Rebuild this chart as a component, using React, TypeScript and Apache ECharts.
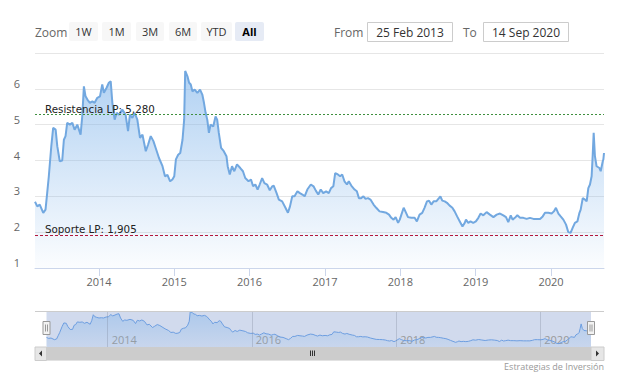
import React, { useEffect, useRef } from 'react';
import * as echarts from 'echarts';

const dates: string[] = [
  '2013-02-25','2013-03-08','2013-03-20','2013-04-06','2013-04-17','2013-04-25','2013-05-03','2013-05-15','2013-05-24','2013-06-05',
  '2013-06-13','2013-06-25','2013-07-07','2013-07-15','2013-07-23','2013-07-31','2013-08-13','2013-08-25','2013-09-05','2013-09-18',
  '2013-10-04','2013-10-12','2013-10-20','2013-10-28','2013-11-06','2013-11-18','2013-11-30','2013-12-11','2013-12-24','2014-01-06',
  '2014-01-17','2014-01-25','2014-02-07','2014-02-18','2014-02-27','2014-03-07','2014-03-18','2014-03-28','2014-04-08','2014-04-24',
  '2014-05-10','2014-05-22','2014-05-31','2014-06-12','2014-06-23','2014-07-06','2014-07-19','2014-07-31','2014-08-16','2014-08-27',
  '2014-09-09','2014-09-22','2014-10-03','2014-10-19','2014-11-05','2014-11-17','2014-11-29','2014-12-12','2014-12-23','2015-01-01',
  '2015-01-09','2015-01-20','2015-01-30','2015-02-10','2015-02-18','2015-02-23','2015-03-06','2015-03-14','2015-03-22','2015-03-30',
  '2015-04-10','2015-04-23','2015-05-06','2015-05-17','2015-05-25','2015-06-02','2015-06-10','2015-06-18','2015-06-26','2015-07-09',
  '2015-07-20','2015-07-28','2015-08-05','2015-08-16','2015-08-29','2015-09-11','2015-09-17','2015-09-27','2015-10-08','2015-10-19',
  '2015-11-01','2015-11-17','2015-11-30','2015-12-11','2015-12-27','2016-01-08','2016-01-18','2016-01-29','2016-02-09','2016-02-19',
  '2016-03-02','2016-03-13','2016-03-26','2016-04-08','2016-04-20','2016-04-27','2016-05-11','2016-05-22','2016-06-07','2016-06-23',
  '2016-07-05','2016-07-15','2016-07-26','2016-08-06','2016-08-20','2016-09-01','2016-09-13','2016-09-24','2016-10-07','2016-10-24',
  '2016-11-06','2016-11-17','2016-11-29','2016-12-11','2016-12-23','2017-01-06','2017-01-19','2017-01-30','2017-02-10','2017-02-19',
  '2017-03-04','2017-03-15','2017-03-25','2017-04-05','2017-04-17','2017-04-26','2017-05-08','2017-05-24','2017-06-04','2017-06-14',
  '2017-06-25','2017-07-06','2017-07-16','2017-07-28','2017-08-09','2017-08-24','2017-09-06','2017-09-22','2017-10-09','2017-10-25',
  '2017-11-07','2017-11-18','2017-11-29','2017-12-09','2017-12-21','2017-12-29','2018-01-06','2018-01-17','2018-01-27','2018-02-07',
  '2018-02-23','2018-03-11','2018-03-22','2018-04-04','2018-04-17','2018-04-28','2018-05-10','2018-05-20','2018-05-31','2018-06-11',
  '2018-06-24','2018-07-07','2018-07-14','2018-07-23','2018-08-04','2018-08-15','2018-08-28','2018-09-10','2018-09-21','2018-10-03',
  '2018-10-16','2018-10-29','2018-11-09','2018-11-15','2018-11-26','2018-12-07','2018-12-20','2019-01-02','2019-01-14','2019-01-25',
  '2019-02-07','2019-02-23','2019-03-11','2019-03-28','2019-04-13','2019-04-29','2019-05-15','2019-05-28','2019-06-08','2019-06-20',
  '2019-06-29','2019-07-10','2019-07-22','2019-08-04','2019-08-20','2019-09-05','2019-09-21','2019-10-08','2019-10-24','2019-11-09',
  '2019-11-22','2019-12-03','2019-12-19','2020-01-04','2020-01-15','2020-01-25','2020-02-06','2020-02-17','2020-03-01','2020-03-14',
  '2020-03-25','2020-04-05','2020-04-15','2020-04-26','2020-05-08','2020-05-18','2020-05-24','2020-06-03','2020-06-14','2020-06-22',
  '2020-06-30','2020-07-08','2020-07-16','2020-07-21','2020-07-26','2020-08-01','2020-08-09','2020-08-23','2020-08-29','2020-09-08',
  '2020-09-11','2020-09-14'
];

const values: number[] = [
  2.85,2.72,2.77,2.54,2.63,3.09,3.56,4.40,4.91,4.86,
  4.40,3.98,4.00,4.58,4.68,5.05,5.00,5.05,4.86,5.00,
  4.72,5.23,6.07,5.79,5.70,5.61,5.65,5.61,5.75,5.79,
  6.12,5.89,6.03,6.17,6.21,5.61,5.14,5.33,5.28,5.42,
  5.28,4.82,5.28,5.19,5.33,5.14,4.63,4.72,4.26,4.44,
  4.68,4.54,4.35,4.07,3.84,3.56,3.60,3.42,3.47,3.56,
  4.03,4.16,4.21,4.58,5.14,6.50,6.35,6.17,6.12,5.93,
  5.98,5.89,5.98,5.84,5.61,5.33,5.14,4.77,5.00,4.95,
  5.23,5.14,4.77,4.35,4.26,4.12,3.84,3.61,3.84,3.70,
  3.89,3.79,3.70,3.51,3.42,3.47,3.28,3.33,3.19,3.33,
  3.51,3.37,3.33,3.17,3.28,3.30,3.09,2.91,2.86,2.68,
  2.54,2.72,3.00,3.00,3.14,3.09,3.05,3.00,3.19,3.33,
  3.28,3.16,3.05,3.19,3.09,3.14,3.09,3.23,3.28,3.65,
  3.61,3.56,3.61,3.42,3.33,3.42,3.30,3.19,3.14,2.95,
  2.95,3.00,2.93,2.95,2.91,2.77,2.68,2.58,2.56,2.54,
  2.49,2.40,2.35,2.42,2.26,2.35,2.49,2.68,2.56,2.42,
  2.40,2.40,2.30,2.49,2.54,2.68,2.86,2.88,2.77,2.86,
  2.86,2.95,3.00,2.88,2.86,2.82,2.74,2.68,2.58,2.44,
  2.30,2.16,2.26,2.35,2.26,2.30,2.26,2.30,2.40,2.52,
  2.47,2.56,2.49,2.42,2.49,2.52,2.47,2.42,2.28,2.47,
  2.35,2.40,2.47,2.40,2.40,2.37,2.40,2.37,2.37,2.37,
  2.44,2.54,2.54,2.52,2.58,2.68,2.52,2.44,2.35,2.21,
  2.00,1.98,2.12,2.26,2.30,2.54,2.63,2.95,2.91,2.86,
  3.23,3.33,3.56,4.12,4.77,4.12,3.84,3.79,3.70,3.98,
  4.03,4.21
];

const resistance = 5.28;
const support = 1.905;
const resistanceLabel = 'Resistencia LP';
const supportLabel = 'Soporte LP';
const rangeButtons = ['1W', '1M', '3M', '6M', 'YTD', 'All'];
const selectedButton = 'All';
const fromText = '25 Feb 2013';
const toText = '14 Sep 2020';
const navGridDates = ['2014-01-01', '2016-01-01', '2018-01-01', '2020-01-01'];
const credits = 'Estrategias de Inversión';

const FONT = '"Open Sans", sans-serif';
const LABEL_FONT = '"DejaVu Sans", Verdana, sans-serif';

function fmt(v: number) {
  return v.toFixed(3).replace('.', ',');
}

export default function App() {
  const ref = useRef<HTMLDivElement>(null);

  useEffect(() => {
    if (!ref.current) return;
    const chart = echarts.init(ref.current, null, { renderer: 'svg' });
    const data = dates.map((d, i) => [d, values[i]]);

    const btnX = [69, 102, 136, 169, 201, 235];
    const btnW = [29, 29, 28, 28, 31, 29];
    const graphics: any[] = [
      { type: 'text', x: 35, y: 32, style: { text: 'Zoom', fill: '#666', font: '12px ' + FONT, align: 'left', verticalAlign: 'middle' } },
    ];
    rangeButtons.forEach((b, i) => {
      const sel = b === selectedButton;
      graphics.push({ type: 'rect', shape: { x: btnX[i], y: 22, width: btnW[i], height: 19, r: 2 }, style: { fill: sel ? '#e6ebf5' : '#f7f7f7' } });
      graphics.push({ type: 'text', x: btnX[i] + btnW[i] / 2, y: 31.5, style: { text: b, fill: sel ? '#000' : '#333', font: (sel ? 'bold ' : '') + '11px ' + FONT, align: 'center', verticalAlign: 'middle' } });
    });
    graphics.push(
      { type: 'text', x: 334, y: 32, style: { text: 'From', fill: '#666', font: '12px ' + FONT, align: 'left', verticalAlign: 'middle' } },
      { type: 'rect', shape: { x: 367.5, y: 22.5, width: 85, height: 19 }, style: { fill: '#fff', stroke: '#cccccc', lineWidth: 1 } },
      { type: 'text', x: 410, y: 32, style: { text: fromText, fill: '#333', font: '12px ' + FONT, align: 'center', verticalAlign: 'middle' } },
      { type: 'text', x: 463, y: 32, style: { text: 'To', fill: '#666', font: '12px ' + FONT, align: 'left', verticalAlign: 'middle' } },
      { type: 'rect', shape: { x: 483.5, y: 22.5, width: 85, height: 19 }, style: { fill: '#fff', stroke: '#cccccc', lineWidth: 1 } },
      { type: 'text', x: 526, y: 32, style: { text: toText, fill: '#333', font: '12px ' + FONT, align: 'center', verticalAlign: 'middle' } },
      // navigator outline
      { type: 'line', shape: { x1: 35, y1: 311.5, x2: 604, y2: 311.5 }, style: { stroke: '#cccccc', lineWidth: 1 }, z: 10 },
      // scrollbar
      { type: 'rect', shape: { x: 35, y: 347, width: 569, height: 13.5 }, style: { fill: '#f2f2f2' }, z: 10 },
      { type: 'rect', shape: { x: 46.5, y: 347, width: 544.5, height: 13.5 }, style: { fill: '#cccccc' }, z: 10 },
      { type: 'rect', shape: { x: 35, y: 347, width: 11.5, height: 13.5 }, style: { fill: '#e6e6e6', stroke: '#cccccc', lineWidth: 1 }, z: 10 },
      { type: 'rect', shape: { x: 591, y: 347, width: 13, height: 13.5 }, style: { fill: '#e6e6e6', stroke: '#cccccc', lineWidth: 1 }, z: 10 },
      { type: 'polygon', shape: { points: [[42, 350.5], [42, 356.5], [39, 353.5]] }, style: { fill: '#333' }, z: 11 },
      { type: 'polygon', shape: { points: [[596, 350.5], [596, 356.5], [599, 353.5]] }, style: { fill: '#333' }, z: 11 },
      { type: 'line', shape: { x1: 310.5, y1: 350.5, x2: 310.5, y2: 356 }, style: { stroke: '#333', lineWidth: 1 }, z: 11 },
      { type: 'line', shape: { x1: 312.5, y1: 350.5, x2: 312.5, y2: 356 }, style: { stroke: '#333', lineWidth: 1 }, z: 11 },
      { type: 'line', shape: { x1: 314.5, y1: 350.5, x2: 314.5, y2: 356 }, style: { stroke: '#333', lineWidth: 1 }, z: 11 },
    );
    [46.5, 591].forEach((cx) => {
      graphics.push(
        { type: 'rect', shape: { x: cx - 3.5, y: 321.5, width: 7, height: 13 }, style: { fill: '#f2f2f2', stroke: '#999999', lineWidth: 1 }, z: 12 },
        { type: 'line', shape: { x1: cx - 1, y1: 324.5, x2: cx - 1, y2: 331.5 }, style: { stroke: '#999999', lineWidth: 1 }, z: 13 },
        { type: 'line', shape: { x1: cx + 1, y1: 324.5, x2: cx + 1, y2: 331.5 }, style: { stroke: '#999999', lineWidth: 1 }, z: 13 },
      );
    });
    graphics.push({ type: 'text', x: 604, y: 366, style: { text: credits, fill: '#999', font: '9px ' + FONT, align: 'right', verticalAlign: 'middle' } });

    const areaGrad = new echarts.graphic.LinearGradient(0, 0, 0, 1, [
      { offset: 0, color: 'rgba(124,178,234,0.85)' },
      { offset: 1, color: 'rgba(124,178,234,0.04)' },
    ]);
    const navGrad = new echarts.graphic.LinearGradient(0, 0, 0, 1, [
      { offset: 0, color: 'rgba(124,178,234,0.6)' },
      { offset: 1, color: 'rgba(124,178,234,0.15)' },
    ]);

    const markLabel = (text: string) => ({
      show: true,
      formatter: text,
      position: 'insideStartTop',
      distance: [10, 1],
      color: '#222',
      fontSize: 10.3,
      fontFamily: LABEL_FONT,
    });

    chart.setOption({
      animation: false,
      textStyle: { fontFamily: FONT },
      grid: [
        { left: 35, right: 14, top: 53, height: 215, outerBoundsMode: 'none' },
        { left: 46.5, right: 27, top: 311, height: 36, show: true, backgroundColor: 'rgba(102,133,194,0.3)', borderWidth: 0, outerBoundsMode: 'none' },
      ],
      xAxis: [
        {
          type: 'time', gridIndex: 0, min: dates[0], max: dates[dates.length - 1], splitNumber: 8,
          axisLine: { show: true, lineStyle: { color: '#ccd6eb', width: 1 } },
          axisTick: { show: true, length: 8, lineStyle: { color: '#ccd6eb' } },
          axisLabel: { formatter: '{yyyy}', color: '#666', fontSize: 11, margin: 8, showMinLabel: false, showMaxLabel: false, fontFamily: FONT },
          splitLine: { show: false },
        },
        {
          type: 'time', gridIndex: 1, min: dates[0], max: dates[dates.length - 1], splitNumber: 8,
          axisLine: { show: false }, axisTick: { show: false }, splitLine: { show: false },
          axisLabel: {
            inside: true, margin: 2, color: '#999', fontSize: 11, fontFamily: FONT, align: 'left', padding: [0, 0, 0, 4],
            showMinLabel: false, showMaxLabel: false,
            formatter: (v: number) => { const y = new Date(v).getFullYear(); return y % 2 === 0 ? String(y) : ''; },
          },
        },
      ],
      yAxis: [
        {
          type: 'value', gridIndex: 0, min: 1, max: 7, interval: 1,
          axisLine: { show: false }, axisTick: { show: false },
          axisLabel: { color: '#666', fontSize: 11, margin: 15, verticalAlign: 'bottom', showMaxLabel: false, fontFamily: FONT },
          splitLine: { lineStyle: { color: '#e6e6e6' } },
        },
        { type: 'value', gridIndex: 1, min: 1.5, max: 6.6, show: false, splitLine: { show: false } },
      ],
      graphic: graphics,
      series: [
        {
          type: 'line', xAxisIndex: 0, yAxisIndex: 0, data, symbol: 'none', showSymbol: false, silent: true,
          lineStyle: { color: '#72a8e0', width: 2 }, itemStyle: { color: '#72a8e0' },
          areaStyle: { color: areaGrad },
          markLine: {
            silent: true, symbol: ['none', 'none'], animation: false,
            data: [
              { yAxis: resistance, lineStyle: { color: '#3f8f3f', type: [2, 2], width: 1 }, label: markLabel(`${resistanceLabel}: ${fmt(resistance)}`) },
              { yAxis: support, lineStyle: { color: '#b3183c', type: [3, 2], width: 1 }, label: markLabel(`${supportLabel}: ${fmt(support)}`) },
            ],
          },
        },
        {
          type: 'line', xAxisIndex: 1, yAxisIndex: 1, data, symbol: 'none', showSymbol: false, silent: true,
          lineStyle: { color: '#6d9ee0', width: 1 }, itemStyle: { color: '#6d9ee0' },
          areaStyle: { color: navGrad },
          markLine: {
            silent: true, symbol: ['none', 'none'], animation: false, label: { show: false },
            lineStyle: { color: 'rgba(120,130,150,0.3)', type: 'solid', width: 1 },
            data: navGridDates.map((d) => ({ xAxis: d })),
          },
        },
      ],
    });
    return () => chart.dispose();
  }, []);

  return <div ref={ref} style={{ position: 'absolute', left: 0, top: 0, width: 618, height: 376 }} />;
}
